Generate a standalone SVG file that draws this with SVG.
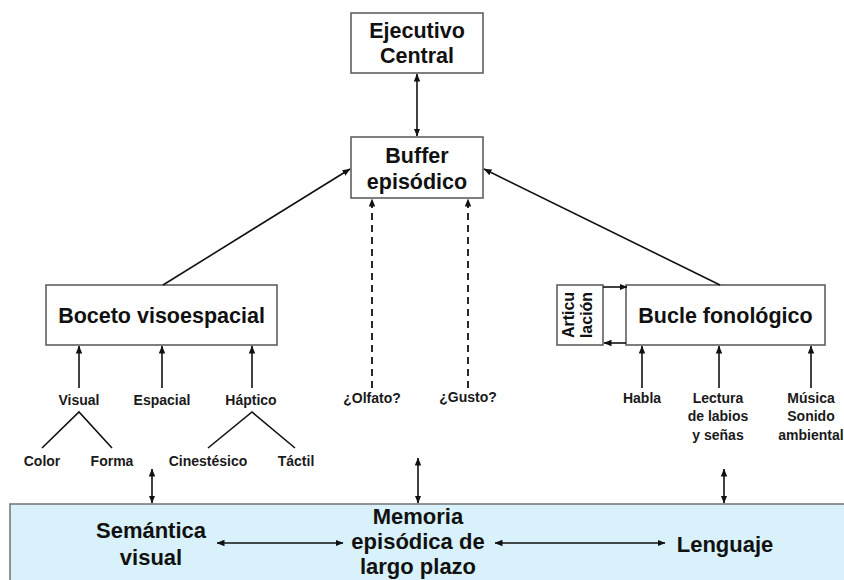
<svg xmlns="http://www.w3.org/2000/svg" width="844" height="580" viewBox="0 0 844 580">
  <style>
    .box { fill: #ffffff; stroke: #606060; stroke-width: 1.6; }
    .band { fill: #d8f1fa; stroke: #7a7a7a; stroke-width: 1.6; }
    .title { font-family: "Liberation Sans", Arial, sans-serif; font-weight: bold; font-size: 21.5px; fill: #111; text-anchor: middle; }
    .lbl { font-family: "Liberation Sans", Arial, sans-serif; font-weight: bold; font-size: 14px; fill: #1a1a1a; text-anchor: middle; }
    .rot { font-family: "Liberation Sans", Arial, sans-serif; font-weight: bold; font-size: 16px; fill: #111; text-anchor: middle; }
    .mem { font-family: "Liberation Sans", Arial, sans-serif; font-weight: bold; font-size: 22px; fill: #111; text-anchor: middle; }
    .ln { fill: none; stroke: #111; stroke-width: 1.6; }
    .arr { fill: none; stroke: #111; stroke-width: 1.6; marker-end: url(#head); }
    .arr2 { fill: none; stroke: #111; stroke-width: 1.6; marker-start: url(#head); marker-end: url(#head); }
    .dash { fill: none; stroke: #111; stroke-width: 1.8; stroke-dasharray: 7 5; marker-end: url(#head); }
  </style>
  <defs>
    <marker id="head" viewBox="0 0 8 8" refX="7.5" refY="4" markerWidth="8" markerHeight="8" markerUnits="userSpaceOnUse" orient="auto-start-reverse">
      <path d="M0,0.8 L8,4 L0,7.2 Z" fill="#111"/>
    </marker>
  </defs>

  <!-- long-term memory band -->
  <g id="memoria-largo-plazo">
    <rect class="band" x="10" y="504" width="840" height="90"/>
    <text class="mem" x="151" y="538">Semántica</text>
    <text class="mem" x="151" y="565">visual</text>
    <text class="mem" x="418" y="524">Memoria</text>
    <text class="mem" x="418" y="549">episódica de</text>
    <text class="mem" x="418" y="574">largo plazo</text>
    <text class="mem" x="725" y="552">Lenguaje</text>
  </g>

  <g id="ejecutivo-central">
    <rect class="box" x="351" y="13" width="132" height="60"/>
    <text class="title" x="417" y="38">Ejecutivo</text>
    <text class="title" x="417" y="63">Central</text>
  </g>

  <g id="buffer-episodico">
    <rect class="box" x="351" y="137" width="132" height="61"/>
    <text class="title" x="417" y="163">Buffer</text>
    <text class="title" x="417" y="189">episódico</text>
  </g>

  <g id="boceto-visoespacial">
    <rect class="box" x="46" y="285" width="231" height="60"/>
    <text class="title" x="161.5" y="323" font-size="22">Boceto visoespacial</text>
  </g>

  <g id="articulacion">
    <rect class="box" x="557" y="285" width="46" height="60"/>
    <g transform="translate(580,315) rotate(-90)">
      <text class="rot" x="0" y="-6">Articu</text>
      <text class="rot" x="0" y="12">lación</text>
    </g>
  </g>

  <g id="bucle-fonologico">
    <rect class="box" x="626" y="285" width="199" height="60"/>
    <text class="title" x="725.5" y="323" font-size="20.5">Bucle fonológico</text>
  </g>

  <g id="entradas-visoespaciales">
    <text class="lbl" x="79" y="405">Visual</text>
    <text class="lbl" x="162" y="405">Espacial</text>
    <text class="lbl" x="251" y="405">Háptico</text>
    <text class="lbl" x="42" y="466">Color</text>
    <text class="lbl" x="112" y="466">Forma</text>
    <text class="lbl" x="208" y="466">Cinestésico</text>
    <text class="lbl" x="296" y="466">Táctil</text>
  </g>

  <g id="entradas-quimicas">
    <text class="lbl" x="372" y="403">¿Olfato?</text>
    <text class="lbl" x="468" y="402">¿Gusto?</text>
  </g>

  <g id="entradas-fonologicas">
    <text class="lbl" x="642" y="403">Habla</text>
    <text class="lbl" x="718" y="403">Lectura</text>
    <text class="lbl" x="718" y="421">de labios</text>
    <text class="lbl" x="718" y="440">y señas</text>
    <text class="lbl" x="811" y="403">Música</text>
    <text class="lbl" x="811" y="421">Sonido</text>
    <text class="lbl" x="811" y="440">ambiental</text>
  </g>

  <g id="conectores">
    <!-- central executive <-> buffer -->
    <path class="arr2" d="M417,74 L417,136"/>
    <!-- subsystems -> buffer -->
    <path class="arr" d="M163,285 L350,169"/>
    <path class="arr" d="M720,285 L484,169"/>
    <!-- smell / taste (uncertain) -->
    <path class="dash" d="M372,388 L372,199"/>
    <path class="dash" d="M468,388 L468,199"/>
    <!-- visuospatial inputs -->
    <path class="arr" d="M79,388 L79,346"/>
    <path class="arr" d="M162,388 L162,346"/>
    <path class="arr" d="M252,388 L252,346"/>
    <path class="ln" d="M42,448 L79,412 L112,448"/>
    <path class="ln" d="M208,448 L252,412 L295,448"/>
    <!-- phonological inputs -->
    <path class="arr" d="M642,388 L642,346"/>
    <path class="arr" d="M719,388 L719,346"/>
    <path class="arr" d="M811,388 L811,346"/>
    <!-- articulatory rehearsal loop -->
    <path class="arr" d="M603,287 L627,287"/>
    <path class="arr" d="M626,343 L604,343"/>
    <!-- links to long-term memory -->
    <path class="arr2" d="M152,469 L152,503"/>
    <path class="arr2" d="M418,458 L418,503"/>
    <path class="arr2" d="M724,469 L724,503"/>
    <!-- links within long-term memory -->
    <path class="arr2" d="M217,543 L343,543"/>
    <path class="arr2" d="M495,543 L665,543"/>
  </g>
</svg>
